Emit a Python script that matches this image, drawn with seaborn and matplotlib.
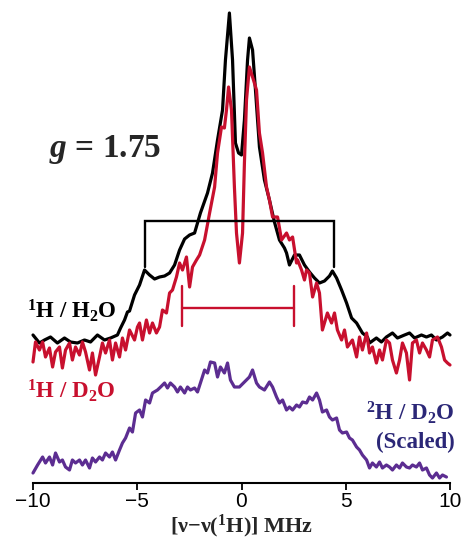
import matplotlib
matplotlib.use("Agg")
import matplotlib.pyplot as plt
import seaborn as sns
import pandas as pd

# ---- data (x in MHz, intensity in arbitrary units) ----
black_x = [-10.0, -9.69, -9.45, -9.16, -8.83, -8.49, -8.20, -7.87, -7.53, -7.24, -6.91, -6.57, -6.28,
           -5.95, -5.80, -5.61, -5.47, -5.37, -5.13, -4.89, -4.65, -4.41, -4.17, -3.93, -3.69, -3.45,
           -3.21, -2.97, -2.73, -2.49, -2.25, -1.97, -1.63, -1.39, -1.15, -0.91, -0.77, -0.58, -0.43,
           -0.29, -0.14, 0.0, 0.14, 0.29, 0.38, 0.53, 0.67, 0.86, 1.10, 1.34, 1.58, 1.82, 2.06, 2.16,
           2.30, 2.54, 2.78, 3.02, 3.26, 3.50, 3.74, 3.98, 4.22, 4.36, 4.56, 4.80, 5.04, 5.28, 5.52,
           5.80, 6.04, 6.14, 6.47, 6.71, 6.95, 7.24, 7.48, 7.82, 8.06, 8.30, 8.63, 8.87, 9.11, 9.35,
           9.64, 9.88, 10.0]
black_y = [148, 140, 143, 146, 140, 145, 141, 140, 143, 141, 148, 143, 145,
           148, 155, 163, 171, 172, 188, 198, 213, 208, 204, 206, 207, 210,
           218, 233, 244, 248, 250, 270, 290, 310, 343, 373, 423, 470, 423,
           340, 330, 328, 363, 423, 445, 433, 393, 336, 303, 283, 261, 243, 235, 230,
           218, 228, 228, 218, 211, 205, 200, 202, 207, 212, 205, 193, 180, 165, 160,
           150, 146, 140, 145, 141, 146, 150, 145, 148, 150, 145, 148, 146, 148, 143,
           146, 150, 148]

red_x = [-10.0, -9.88, -9.69, -9.54, -9.40, -9.21, -9.06, -8.92, -8.73, -8.59, -8.44, -8.25, -8.11,
         -7.96, -7.77, -7.63, -7.48, -7.29, -7.15, -7.00, -6.81, -6.67, -6.52, -6.33, -6.19, -6.04,
         -5.85, -5.71, -5.56, -5.37, -5.13, -4.99, -4.89, -4.75, -4.56, -4.41, -4.27, -4.08, -3.93,
         -3.79, -3.60, -3.45, -3.31, -3.12, -2.97, -2.83, -2.64, -2.49, -2.35, -2.16, -2.01, -1.77,
         -1.53, -1.29, -1.15, -0.96, -0.82, -0.72, -0.62, -0.48, -0.34, -0.24, -0.10, 0.05, 0.14,
         0.24, 0.38, 0.53, 0.72, 0.86, 1.01, 1.20, 1.34, 1.49, 1.73, 1.92, 2.16, 2.30, 2.45, 2.64,
         2.69, 2.88, 3.02, 3.12, 3.26, 3.41, 3.60, 3.74, 3.88, 4.12, 4.32, 4.46, 4.60, 4.80, 4.94,
         5.08, 5.32, 5.52, 5.66, 5.80, 6.00, 6.14, 6.28, 6.47, 6.62, 6.76, 6.95, 7.10, 7.24, 7.43,
         7.58, 7.72, 7.91, 8.06, 8.20, 8.39, 8.54, 8.68, 8.87, 9.02, 9.16, 9.40, 9.59, 9.74, 9.88,
         10.0]
red_y = [121, 141, 133, 141, 126, 135, 116, 131, 136, 115, 133, 140, 123,
         136, 128, 141, 131, 113, 130, 108, 126, 140, 130, 143, 123, 140,
         126, 145, 133, 153, 143, 156, 160, 143, 163, 150, 160, 150, 156,
         173, 170, 190, 193, 206, 220, 213, 226, 196, 216, 223, 228, 243,
         270, 296, 330, 356, 355, 373, 396, 373, 296, 250, 220, 250, 320,
         383, 416, 406, 393, 350, 330, 296, 283, 266, 266, 243, 250, 243, 246, 220,
         223, 213, 203, 213, 210, 186, 200, 190, 153, 170, 160, 170, 153, 143, 153,
         136, 143, 126, 146, 133, 150, 130, 136, 120, 133, 123, 143, 140, 123, 110,
         123, 140, 130, 103, 140, 143, 130, 140, 133, 126, 143, 146, 136, 123, 120,
         118]

purple_x = [-10.0, -9.78, -9.54, -9.40, -9.21, -9.06, -8.92, -8.73, -8.59, -8.44, -8.25, -8.11, -7.96,
            -7.77, -7.63, -7.48, -7.29, -7.15, -7.00, -6.81, -6.67, -6.52, -6.33, -6.19, -6.04, -5.85,
            -5.71, -5.56, -5.37, -5.23, -5.08, -4.89, -4.75, -4.60, -4.41, -4.27, -4.03, -3.88, -3.69,
            -3.55, -3.41, -3.21, -3.07, -2.93, -2.73, -2.59, -2.45, -2.25, -2.11, -1.97, -1.77, -1.63,
            -1.49, -1.29, -1.15, -1.01, -0.82, -0.67, -0.53, -0.34, -0.10, 0.14, 0.38, 0.53, 0.72,
            0.86, 1.10, 1.34, 1.49, 1.68, 1.82, 1.97, 2.16, 2.30, 2.45, 2.64, 2.78, 2.93, 3.12, 3.26,
            3.41, 3.60, 3.74, 3.88, 4.08, 4.22, 4.36, 4.56, 4.70, 4.84, 5.04, 5.18, 5.32, 5.52, 5.66,
            5.80, 6.00, 6.14, 6.28, 6.47, 6.62, 6.76, 6.95, 7.10, 7.24, 7.43, 7.58, 7.72, 7.91, 8.06,
            8.20, 8.39, 8.54, 8.68, 8.87, 9.02, 9.16, 9.35, 9.50, 9.64, 9.83]
purple_y = [10, 18, 26, 20, 26, 18, 30, 21, 23, 16, 13, 23, 20,
            23, 18, 23, 15, 25, 21, 26, 23, 30, 26, 31, 23, 33,
            40, 45, 55, 51, 70, 73, 66, 83, 80, 90, 93, 96, 100,
            95, 100, 96, 91, 96, 90, 96, 93, 95, 91, 100, 113, 110,
            121, 120, 106, 116, 110, 120, 103, 96, 96, 101, 106, 113, 100,
            96, 93, 101, 96, 86, 80, 83, 73, 76, 73, 78, 76, 81, 80, 86,
            83, 90, 83, 71, 73, 66, 63, 65, 53, 50, 51, 45, 43, 36, 33,
            28, 23, 15, 20, 16, 21, 15, 18, 16, 13, 18, 15, 20, 16, 15,
            18, 16, 20, 13, 15, 8, 5, 10, 5, 8, 6]

# bracket annotations (x span, y levels)
black_bracket_x = [-4.65, 4.46]
black_bracket_y = [262, 216]      # top, leg bottom
red_bracket_x = [-2.83, 2.54]
red_bracket_y = [175, 197, 157]   # bar, leg top, leg bottom

tick_vals = [-10, -5, 0, 5, 10]

RED = "#c8102e"
PURPLE = "#5c2d91"
NAVY = "#2b2777"

sns.set_style("white")
plt.rcParams["mathtext.fontset"] = "custom"
plt.rcParams["mathtext.rm"] = "Liberation Serif:bold"
plt.rcParams["mathtext.it"] = "Liberation Serif:italic:bold"
plt.rcParams["mathtext.bf"] = "Liberation Serif:bold"

fig = plt.figure(figsize=(4.63, 5.43), dpi=100)
ax = fig.add_axes([33 / 463, 60 / 543, 417 / 463, 483 / 543])

lw = 2.3
sns.lineplot(data=pd.DataFrame({"x": black_x, "y": black_y}), x="x", y="y", ax=ax,
             color="black", lw=lw, sort=False, estimator=None)
sns.lineplot(data=pd.DataFrame({"x": red_x, "y": red_y}), x="x", y="y", ax=ax,
             color=RED, lw=lw, sort=False, estimator=None)
sns.lineplot(data=pd.DataFrame({"x": purple_x, "y": purple_y}), x="x", y="y", ax=ax,
             color=PURPLE, lw=lw, sort=False, estimator=None)

# brackets
bx0, bx1 = black_bracket_x
ax.plot([bx0, bx0, bx1, bx1], [black_bracket_y[1], black_bracket_y[0], black_bracket_y[0], black_bracket_y[1]],
        color="black", lw=1.7, solid_joinstyle="miter")
rx0, rx1 = red_bracket_x
ax.plot([rx0, rx1], [red_bracket_y[0], red_bracket_y[0]], color=RED, lw=1.7)
ax.plot([rx0, rx0], [red_bracket_y[2], red_bracket_y[1]], color=RED, lw=1.7)
ax.plot([rx1, rx1], [red_bracket_y[2], red_bracket_y[1]], color=RED, lw=1.7)

for ln in ax.lines:
    ln.set_clip_on(False)

ax.set_xlim(-10, 10)
ax.set_ylim(0, 483)
ax.set_yticks([])
ax.set_ylabel("")
ax.set_xticks(tick_vals)
ax.set_xticklabels(["\u2212" + str(abs(t)) if t < 0 else str(t) for t in tick_vals],
                   fontfamily="Liberation Sans", fontsize=15)
ax.tick_params(axis="x", direction="out", length=5, width=1.3, pad=1.5, bottom=True, colors="black")
for s in ["top", "left", "right"]:
    ax.spines[s].set_visible(False)
ax.spines["bottom"].set_linewidth(1.5)
ax.spines["bottom"].set_color("black")
ax.set_xlabel("[\u03bd\u2212\u03bd($^{1}$H)] MHz", fontfamily="Liberation Serif", fontweight="bold",
              fontsize=16, labelpad=1)

serif = dict(fontfamily="Liberation Serif", fontweight="bold")
ax.text(-6.52, 326, "$g$ = 1.75", ha="center", va="baseline", fontsize=24, **serif)
ax.text(-10.31, 165, "$^{1}$H / H$_{2}$O", ha="left", va="baseline", fontsize=16.5, color="black", **serif)
ax.text(-10.31, 85, "$^{1}$H / D$_{2}$O", ha="left", va="baseline", fontsize=16.5, color=RED, **serif)
ax.text(10.22, 63, "$^{2}$H / D$_{2}$O", ha="right", va="baseline", fontsize=16.5, color=NAVY, **serif)
ax.text(10.22, 35, "(Scaled)", ha="right", va="baseline", fontsize=16.5, color=NAVY, **serif)

fig.savefig("out.png", dpi=100)
